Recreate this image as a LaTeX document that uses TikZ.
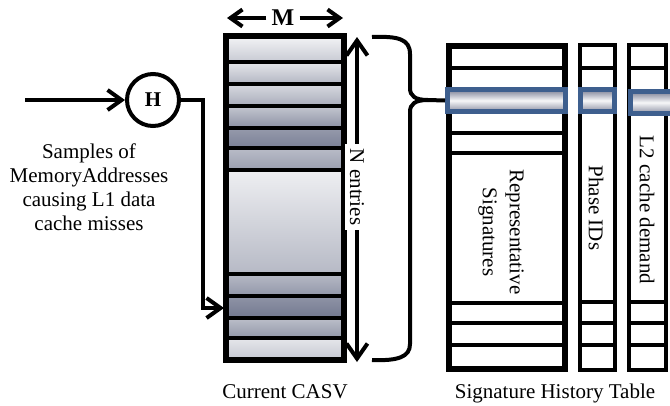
\documentclass[tikz,border=0pt]{standalone}
\usepackage{fontspec}
\setmainfont{Liberation Serif}
\usetikzlibrary{arrows.meta,calc}
\definecolor{sg}{HTML}{737990}
\definecolor{hlblue}{HTML}{3E5F8E}
\definecolor{hltop}{HTML}{7C8095}
\definecolor{hlbot}{HTML}{8C90A3}
\tikzset{
  txt/.style={font=\fontsize{21}{24}\selectfont, inner sep=0pt},
  conn/.style={line width=4pt},
  arr/.style={conn, -{Straight Barb[length=14pt,width=20pt]}},
  sarr/.style={conn, -{Straight Barb[length=15pt,width=21pt]}},
  marr/.style={conn, -{Straight Barb[length=12pt,width=17pt]}},
  sep/.style={line width=4pt},
  thinsep/.style={line width=3.5pt},
  hlbox/.style={draw=hlblue, line width=5pt},
}
\begin{document}
\begin{tikzpicture}[x=1pt,y=-1pt]
\useasboundingbox (0,0) rectangle (670,405);

% ---------- Current CASV ----------
\foreach \a/\b/\c/\d in {36/62/8/40, 62/84/18/55, 84/106/28/62, 106/128/42/82,
   128/148/75/95, 148/170/50/72, 170/274/12/52, 274/296/52/78,
   296/318/80/100, 318/338/48/78, 338/360/18/42}
  {\shade[top color=sg!\c, bottom color=sg!\d] (226,\a) rectangle (344,\b);}
\foreach \y in {62,84,106,128,148,170,274,296,318,338}
  {\draw[sep] (226,\y) -- (344,\y);}
\node[draw, line width=6pt, minimum width=118pt, minimum height=324pt, inner sep=0pt] (casv) at (285,198) {};
\node[txt, anchor=base] (casvlbl) at (285,398) {Current CASV};

% M arrow
\node[font=\fontsize{24}{26}\selectfont\bfseries, inner sep=5pt] (M) at (283,18) {M};
\coordinate (Ml) at (227,18);
\coordinate (Mr) at (343,18);
\draw[marr] (M.west) -- (Ml);
\draw[marr] (M.east) -- (Mr);

% N entries
\node[txt, rotate=-90, fill=white, inner sep=5pt] (N) at (357,187) {N entries};
\coordinate (Nt) at (357,37);
\coordinate (Nb) at (357,362);
\draw[sarr] (N.west) -- (Nt);
\draw[sarr] (N.east) -- (Nb);

% ---------- H and input ----------
\node[draw, circle, line width=4pt, minimum size=52pt, inner sep=0pt,
      font=\fontsize{21}{22}\selectfont\bfseries] (H) at (153,100) {H};
\coordinate (in) at (25,100);
\draw[arr] (in) -- (H.west);
\coordinate (hc) at (203,100);
\coordinate (rowin) at (224,308);
\draw[arr, line join=miter] (H.east) -- (hc) |- (rowin);
\node[txt, align=center] (samples) at (89,187)
  {Samples of\\MemoryAddresses\\causing L1 data\\cache misses};

% ---------- Signature History Table ----------
\node[draw, fill=white, line width=6pt, minimum width=116pt, minimum height=323pt, inner sep=0pt] (sht) at (507,207.5) {};
\node[draw, fill=white, line width=4pt, minimum width=35pt, minimum height=325pt, inner sep=0pt] (ph) at (597.5,207.5) {};
\node[draw, fill=white, line width=4pt, minimum width=37pt, minimum height=325pt, inner sep=0pt] (l2) at (647.5,207.5) {};
\foreach \y in {68,133,153,303,323,345}
  {\draw[sep] (449,\y) -- (565,\y);}
\foreach \y in {68,302,323,345}
  {\draw[thinsep] (580,\y) -- (615,\y);
   \draw[thinsep] (629,\y) -- (666,\y);}

% highlighted rows
\foreach \xa/\xb/\ya/\yb/\nm in {447.5/565.5/89.5/111.5/hlA, 580.5/614.5/89.5/111.5/hlB, 630.5/672/91.5/113.5/hlC}
 {\shade[top color=hltop, bottom color=hlbot, middle color=white!94!sg] (\xa,\ya) rectangle (\xb,\yb);
  \draw[hlbox] (\xa,\ya) rectangle (\xb,\yb);
  \coordinate (\nm) at ($(\xa,\ya)!0.5!(\xb,\yb)$);}
\coordinate (hlAw) at (445,100.5);

\node[txt, rotate=-90, align=center, font=\fontsize{21}{27}\selectfont] (rep) at (501,232) {Representative\\Signatures};
\node[txt, rotate=-90] (phlbl) at (596,208) {Phase IDs};
\node[txt, rotate=-90] (l2lbl) at (647,210) {L2 cache demand};
\node[txt, anchor=base] (shtlbl) at (555,398) {Signature History Table};

% ---------- Brace ----------
\coordinate (btop) at (372,37);
\coordinate (bbot) at (372,360);
\coordinate (btip) at (428,100);
\draw[conn] (btop) .. controls (398,36) and (410,39) .. (410,54) -- (410,88)
  .. controls (410,96) and (415,100) .. (btip)
  .. controls (415,100) and (410,104) .. (410,112) -- (410,344)
  .. controls (410,357) and (398,361) .. (bbot);
\draw[conn] (btip) -- (hlAw);
\end{tikzpicture}
\end{document}
